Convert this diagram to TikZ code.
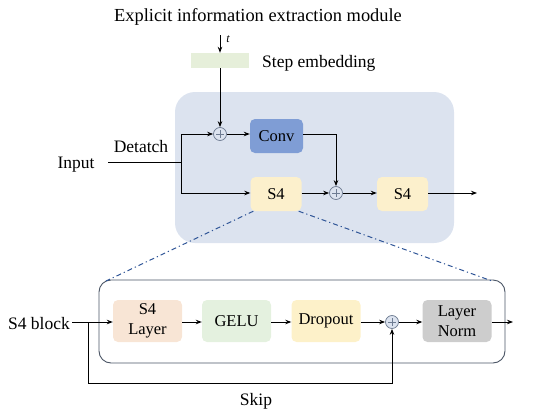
\documentclass[tikz,border=0pt]{standalone}
\usepackage{fontspec}
\setmainfont{Liberation Serif}
\usetikzlibrary{arrows.meta,calc}
\definecolor{panelbg}{HTML}{DCE3EF}
\definecolor{stepc}{HTML}{E6EFDA}
\definecolor{convc}{HTML}{7F9DD5}
\definecolor{s4c}{HTML}{FCF0CC}
\definecolor{peach}{HTML}{F8E5D5}
\definecolor{gelu}{HTML}{E4F1DF}
\definecolor{drop}{HTML}{FDF1C9}
\definecolor{normc}{HTML}{CDCDCD}
\definecolor{circc}{HTML}{6E7C92}
\definecolor{dashc}{HTML}{2F5597}
\definecolor{framec}{HTML}{4B5565}
\tikzset{
  lbl/.style={font=\fontsize{17.5}{20}\selectfont, inner sep=0pt},
  blk/.style={rounded corners=5pt, minimum height=34pt, font=\fontsize{16.5}{17}\selectfont, inner sep=0pt, align=center},
  bblk/.style={rounded corners=5pt, minimum width=69pt, minimum height=42pt, font=\fontsize{16.5}{20.5}\selectfont, inner sep=0pt, align=center},
  plus/.style={circle, draw=circc, line width=0.7pt, minimum size=13pt, inner sep=0pt},
  arr/.style={-{Stealth[length=6pt,width=4.5pt]}, line width=0.9pt},
  ln/.style={line width=0.9pt},
  dd/.style={dashc, line width=1pt, dash pattern=on 5pt off 3pt on 1.2pt off 3pt},
}
\begin{document}
\begin{tikzpicture}[x=1pt,y=-1pt]
\useasboundingbox (0,0) rectangle (550,418);
% top panel
\fill[panelbg, rounded corners=20pt] (175,92) rectangle (454,243);
\node[font=\fontsize{18.4}{20}\selectfont, inner sep=0pt] (title) at (258,17) {Explicit information extraction module};
\node[fill=stepc, minimum width=58pt, minimum height=15pt, inner sep=0pt] (step) at (220,60.5) {};
\node[lbl, anchor=west] (steplbl) at (262,63) {Step embedding};
\coordinate (tin) at (220,35);
\draw[arr] (tin) -- (step.north);
\node[font=\fontsize{12}{12}\selectfont\itshape, inner sep=0pt] (t) at (228,39) {t};
\node[plus] (p1) at (220,134) {};
\draw[circc, line width=0.7pt] ($(p1)+(-4,0)$) -- ($(p1)+(4,0)$) ($(p1)+(0,-4)$) -- ($(p1)+(0,4)$);
\draw[arr] (step.south) -- (p1.north);
\node[blk, fill=convc, minimum width=53pt] (conv) at (276.5,136) {Conv};
\node[blk, fill=s4c, minimum width=51pt] (s4a) at (276,194) {S4};
\node[blk, fill=s4c, minimum width=51pt] (s4b) at (402.5,194) {S4};
\node[plus] (p2) at (336,193) {};
\draw[circc, line width=0.7pt] ($(p2)+(-4,0)$) -- ($(p2)+(4,0)$) ($(p2)+(0,-4)$) -- ($(p2)+(0,4)$);
\node[lbl] (input) at (76,165) {Input};
\node[lbl] (detatch) at (141,147) {Detatch};
\coordinate (in0) at (108,162);
\coordinate (br) at (181,162);
\coordinate (out1) at (477,193);
\draw[ln] (in0) -- (br);
\draw[arr] (br) |- (p1.west);
\draw[arr] (br) |- (s4a.west |- p2);
\draw[arr] (p1.east) -- (conv.west |- p1);
\draw[arr] (conv.east |- p1) -| (p2.north);
\draw[arr] (s4a.east |- p2) -- (p2.west);
\draw[arr] (p2.east) -- (s4b.west |- p2);
\draw[arr] (s4b.east |- p2) -- (out1);
% bottom panel
\draw[framec, line width=0.9pt, rounded corners=12pt] (99,280) rectangle (505,363);
\coordinate (fl) at (106,281);
\coordinate (fr) at (492,281);
\draw[dd] (s4a.south west) ++(3,0) -- (fl);
\draw[dd] (s4a.south east) ++(-3,0) -- (fr);
\node[lbl] (s4blk) at (39,324) {S4 block};
\node[bblk, fill=peach] (s4l) at (147.5,321) {S4\\Layer};
\node[bblk, fill=gelu] (gelu) at (236.5,321) {GELU};
\node[bblk, fill=drop] (dropout) at (326,321) {Dropout};
\node[bblk, fill=normc] (norm) at (457,321) {Layer\\Norm};
\node[plus, fill=panelbg] (p3) at (392,322) {};
\draw[circc, line width=0.7pt] ($(p3)+(-4,0)$) -- ($(p3)+(4,0)$) ($(p3)+(0,-4)$) -- ($(p3)+(0,4)$);
\coordinate (sb) at (72,322);
\coordinate (sk) at (88,322);
\coordinate (out2) at (513,322);
\draw[arr] (sb) -- (s4l.west |- sb);
\draw[arr] (s4l.east |- sb) -- (gelu.west |- sb);
\draw[arr] (gelu.east |- sb) -- (dropout.west |- sb);
\draw[arr] (dropout.east |- sb) -- (p3.west);
\draw[arr] (p3.east) -- (norm.west |- sb);
\draw[arr] (norm.east |- sb) -- (out2);
\draw[arr] (sk) -- (88,383) -| (p3.south);
\node[lbl] (skip) at (256,401) {Skip};
\end{tikzpicture}
\end{document}
